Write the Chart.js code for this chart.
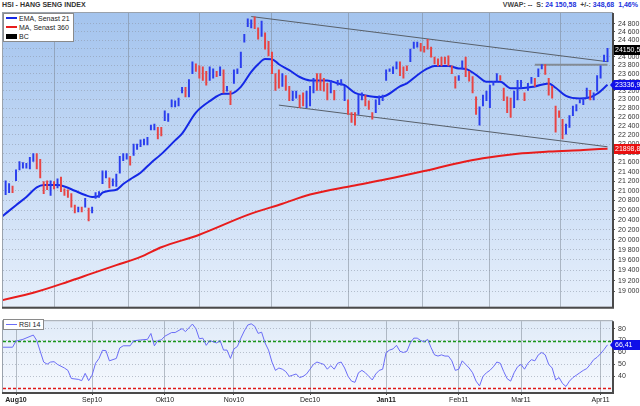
<!DOCTYPE html>
<html>
<head>
<meta charset="utf-8">
<script src="https://cdn.jsdelivr.net/npm/chart.js@4.4.1/dist/chart.umd.min.js"></script>
<style>
  body { margin: 0; background: #fff; width: 640px; height: 406px; overflow: hidden; position: relative; font-family: 'Liberation Sans', Arial, sans-serif; }
  #topBox { position: absolute; left: 0; top: 0; }
  #rsiBox { position: absolute; left: 0; top: 314px; }
  .title { position: absolute; left: 2px; top: 1px; font-size: 7px; font-weight: bold; color: #333; white-space: nowrap; }
  .info { position: absolute; right: 2px; top: 1px; font-size: 7px; font-weight: bold; color: #444; white-space: nowrap; }
  .info span { color: #2233dd; }
  .legend { position: absolute; background: #fff; border: 1px solid #8a8a8a; font-size: 7px; color: #222; line-height: 9px; padding: 0 3px 0 2px; }
  .legend i { display: inline-block; width: 11px; height: 2px; margin-right: 2px; vertical-align: 2px; }
  .legend i.box { height: 5px; vertical-align: 0; }
</style>
</head>
<body>
<div class="title">HSI - HANG SENG INDEX</div>
<div class="info" id="info"></div>
<div id="topBox"><canvas id="priceChart" width="640" height="314"></canvas></div>
<div id="rsiBox"><canvas id="rsiChart" width="640" height="92"></canvas></div>
<div class="legend" id="priceLegend" style="left:3px;top:13px;"></div>
<div class="legend" id="rsiLegend" style="left:3px;top:319px;"></div>
<script>
// x axis: trading day number, 0 = first trading day of Aug 2010
const monthDay = [0, 22, 43, 63, 85, 107, 128, 146, 169];
const monthLabel = ['Aug10', 'Sep10', 'Okt10', 'Nov10', 'Dec10', 'Jan11', 'Feb11', 'Mar11', 'Apr11'];
const boldMonths = ['Aug10', 'Jan11'];

const priceTicks = [19000, 19200, 19400, 19600, 19800, 20000, 20200, 20400, 20600, 20800,
  21000, 21200, 21400, 21600, 21800, 22000, 22200, 22400, 22600, 22800, 23000, 23200,
  23400, 23600, 23800, 24000, 24200, 24400, 24600, 24800];
const rsiTicks = [40, 50, 60, 70, 80];

// daily bars (high / low), starting at day -3
const firstDay = -3;
const barHigh = [21210, 21150, 21100, 21440, 21620, 21600, 21580, 21710, 21790, 21790,
  21670, 21190, 21210, 21210, 21190, 21250, 21290, 21040, 21020, 20940,
  20700, 20660, 20660, 20840, 20640, 20660, 20960, 20980, 21420, 21420,
  21270, 21250, 21350, 21730, 21790, 21790, 21730, 22000, 22000, 22090,
  22110, 22150, 22420, 22440, 22370, 22370, 22740, 22680, 22990, 22970,
  23030, 23280, 23280, 23460, 23880, 23830, 23780, 23760, 23650, 23760,
  23710, 23650, 23760, 23690, 23300, 23190, 23690, 23710, 24110, 24540,
  24920, 24900, 24970, 24700, 24870, 24580, 24370, 24110, 23600, 23690,
  23600, 23550, 23300, 23190, 23190, 23100, 23150, 23190, 23300, 23490,
  23600, 23600, 23490, 23370, 23440, 23210, 23440, 23460, 23300, 22990,
  22700, 22700, 23100, 23150, 23100, 22970, 22700, 22990, 23080, 23100,
  23690, 23710, 23760, 23880, 23880, 23760, 23780, 24180, 24350, 24350,
  24320, 24250, 24420, 24230, 23990, 23950, 23990, 23990, 24020, 23780,
  23530, 23550, 23900, 23990, 23650, 23530, 23060, 22830, 23100, 23190,
  23330, 23420, 23600, 23550, 23260, 23060, 23030, 23190, 23440, 23440,
  23150, 23370, 23510, 23490, 23710, 23810, 23810, 23490, 23300, 22850,
  22740, 22550, 22440, 22630, 22850, 22880, 22990, 23030, 23260, 23210,
  23150, 23550, 23780, 24040, 24200];
const barLow = [20920, 20960, 20960, 21210, 21440, 21480, 21480, 21460, 21620, 21460,
  21270, 20940, 21020, 20900, 21040, 21060, 20980, 20900, 20860, 20660,
  20540, 20560, 20560, 20660, 20380, 20540, 20840, 20860, 21150, 21270,
  21060, 21100, 21090, 21370, 21640, 21670, 21540, 21750, 21880, 21940,
  21980, 21980, 22310, 22310, 22110, 22180, 22520, 22500, 22830, 22830,
  22850, 23150, 23060, 23060, 23600, 23650, 23490, 23440, 23330, 23440,
  23490, 23530, 23550, 23150, 23190, 22880, 23370, 23600, 23740, 24350,
  24730, 24700, 24680, 24420, 24490, 24180, 24020, 23600, 23210, 23260,
  23300, 23210, 22970, 22970, 23030, 22810, 22850, 22810, 22850, 23150,
  23210, 23210, 23190, 22990, 23150, 22990, 23330, 23330, 22970, 22660,
  22480, 22420, 22660, 22990, 22850, 22770, 22550, 22700, 22880, 22970,
  23440, 23650, 23600, 23710, 23550, 23490, 23670, 23880, 24200, 24230,
  24130, 24110, 24180, 23990, 23830, 23780, 23780, 23830, 23780, 23600,
  23260, 23440, 23710, 23530, 23420, 23150, 22660, 22420, 22850, 22970,
  22810, 23330, 23420, 23440, 22970, 22700, 22590, 22810, 22990, 23260,
  22970, 23210, 23370, 23300, 23530, 23710, 23580, 23100, 23030, 22260,
  22590, 22110, 22220, 22370, 22630, 22740, 22920, 22880, 23030, 22990,
  22990, 23190, 23490, 23880, 23880];
const barUp = [1, 1, 0, 1, 1, 1, 1, 1, 1, 0,
  0, 0, 0, 1, 0, 1, 0, 0, 0, 0,
  0, 1, 0, 1, 0, 1, 1, 1, 1, 1,
  0, 1, 1, 1, 1, 1, 0, 1, 1, 1,
  1, 1, 1, 1, 0, 0, 1, 1, 1, 1,
  1, 1, 0, 1, 1, 0, 0, 0, 0, 1,
  1, 0, 1, 0, 1, 0, 1, 1, 1, 1,
  1, 1, 0, 0, 1, 0, 0, 0, 0, 0,
  1, 0, 0, 1, 1, 0, 0, 1, 1, 1,
  0, 0, 0, 0, 1, 0, 1, 1, 1, 0,
  0, 0, 1, 1, 0, 0, 0, 1, 1, 1,
  1, 1, 1, 1, 0, 0, 0, 1, 1, 1,
  0, 0, 0, 0, 0, 0, 0, 0, 0, 0,
  0, 1, 1, 0, 0, 0, 0, 1, 1, 1,
  1, 1, 1, 0, 0, 0, 0, 1, 1, 1,
  0, 1, 1, 0, 1, 1, 0, 0, 0, 0,
  0, 0, 1, 1, 1, 1, 1, 1, 1, 0,
  1, 1, 1, 1, 1];

// EMA 21
const emaDay = [-4, 0, 3, 6, 8, 12, 14, 17, 20, 22, 24, 25, 27, 29, 31, 33, 36, 39, 42, 46, 48, 52, 56,
  60, 62, 65, 68, 70, 72, 74, 76, 79, 82, 85, 90, 93, 95, 98, 101, 105, 107, 111, 113, 116, 119,
  121, 125, 128, 130, 133, 136, 140, 143, 146, 150, 154, 156, 159, 163, 166, 168, 171];
const emaValue = [20470, 20700, 20870, 21070, 21120, 21120, 21090, 21000, 20910, 20870, 20890, 20960,
  21000, 21020, 21140, 21240, 21380, 21590, 21780, 22080, 22230, 22700, 22960, 23130, 23130, 23290,
  23640, 23820, 23946, 23940, 23820, 23680, 23520, 23440, 23440, 23370, 23330, 23150, 23090, 23050,
  23090, 23300, 23370, 23560, 23720, 23780, 23780, 23720, 23710, 23570, 23410, 23410, 23260, 23260,
  23300, 23370, 23270, 23080, 23020, 23050, 23130, 23336.9];

// MA 360
const maDay = [-4, 5, 15, 22, 29, 36, 42, 53, 67, 77, 85, 97, 107, 118, 128, 135, 145, 154, 164, 171];
const maValue = [18830, 18970, 19180, 19340, 19500, 19660, 19850, 20100, 20500, 20730, 20920, 21100,
  21240, 21415, 21590, 21690, 21790, 21835, 21870, 21898.88];

// hand-drawn channel and resistance
const upperTrendDay = [68, 171];
const upperTrendValue = [24980, 23880];
const lowerTrendDay = [76, 171];
const lowerTrendValue = [22870, 21940];
const resistDay = [150, 171];
const resistValue = [23810, 23810];

// RSI 14
const rsiDay = [-4, -1, 0, 2, 5, 6, 8, 9, 10, 11, 12, 14, 15, 16, 18, 19, 20, 21, 22, 23, 24, 25, 26, 27,
  29, 30, 31, 33, 34, 36, 38, 39, 40, 41, 42, 43, 45, 46, 48, 49, 51, 52, 53, 54, 55, 56, 57, 58, 59,
  60, 61, 62, 63, 64, 65, 66, 67, 68, 69, 70, 71, 72, 73, 74, 75, 76, 77, 78, 79, 80, 81, 82, 83, 84,
  85, 86, 87, 88, 89, 90, 91, 92, 93, 94, 95, 96, 97, 98, 99, 100, 101, 102, 103, 104, 105, 106, 107,
  108, 109, 110, 111, 112, 113, 114, 115, 116, 117, 118, 119, 120, 121, 122, 123, 124, 125, 126, 127,
  128, 129, 130, 131, 132, 133, 134, 135, 136, 137, 138, 139, 140, 141, 142, 143, 144, 145, 146, 147,
  148, 149, 150, 151, 152, 153, 154, 155, 156, 157, 158, 159, 160, 161, 162, 163, 164, 165, 166, 167,
  168, 169, 170, 171];
const rsiValue = [64.4, 64.4, 69.5, 71, 74.6, 70, 52, 50.2, 52, 52.3, 50, 47, 45, 38.2, 37.5, 36.4, 42.5,
  36.4, 41, 51, 55, 61.8, 61.5, 53, 55, 63.8, 65.6, 65.6, 69.8, 70.5, 71, 75.9, 65.6, 70, 70.5, 73.6,
  76.7, 76.7, 80, 77.5, 83.8, 80, 71.5, 72, 66, 70, 69, 68, 70, 62, 62, 55, 63, 65, 72, 78, 83, 84, 82,
  76, 77, 68, 62, 52, 45, 47, 46, 44, 40, 41, 42, 39, 40, 42, 46, 50, 52, 51, 50, 46, 49, 46, 51, 52,
  47, 40, 36, 35, 43, 45, 43, 40, 37, 42, 45, 46, 60, 62, 63, 66, 61, 60, 61, 68, 72, 72, 70, 69, 71,
  64, 58, 57, 58, 57, 57, 53, 45, 46, 53, 50, 47, 43, 36, 32, 40, 43, 45, 48, 52, 51, 44, 38, 36, 43,
  48, 50, 46, 51, 54, 53, 58, 60, 58, 50, 47, 37, 39, 34, 31.5, 36, 39, 41, 43, 45, 46.5, 50, 54, 56,
  59, 62.5, 66.41];
const rsiUpper = 70;
const rsiLower = 30;

const lastClose = 24150.58;
const change = 348.68;
const changePct = 1.46;

const emaColor = '#1428e6';
const maColor = '#e81c1c';
const upColor = '#2a3eee';
const downColor = '#e84444';
const rsiColor = '#6a6cf6';

Chart.defaults.font.family = "'Liberation Sans', Arial, sans-serif";
Chart.defaults.font.size = 7;
Chart.defaults.color = '#333';
Chart.defaults.animation = false;

function spaced(v) { return String(v).replace(/\B(?=(\d{3})+(?!\d))/g, ' '); }
function comma(v) { return String(v).replace('.', ','); }
function pairs(days, values) { return days.map((d, k) => ({ x: d, y: values[k] })); }

document.getElementById('info').innerHTML =
  'VWAP: -- &nbsp;S: <span>' + spaced(lastClose.toFixed(2).split('.')[0]) + ',' + lastClose.toFixed(2).split('.')[1] +
  '</span> &nbsp;+/-: <span>' + comma(change.toFixed(2)) + ' &nbsp;' + comma(changePct.toFixed(2)) + '%</span>';
document.getElementById('priceLegend').innerHTML =
  '<div><i style="background:' + emaColor + '"></i>EMA, Senast 21</div>' +
  '<div><i style="background:' + maColor + '"></i>MA, Senast 360</div>' +
  '<div><i class="box" style="background:#000"></i>BC</div>';
document.getElementById('rsiLegend').innerHTML = '<div><i style="background:' + rsiColor + ';height:1px"></i>RSI 14</div>';

// gradient behind the plot area and frame around it
const panelBg = {
  id: 'panelBg',
  beforeDraw(chart, args, opts) {
    const { ctx, chartArea: a } = chart;
    const g = ctx.createLinearGradient(0, a.top, 0, a.bottom);
    g.addColorStop(0, opts.top);
    g.addColorStop(1, opts.bottom);
    ctx.save();
    ctx.fillStyle = g;
    ctx.fillRect(a.left, a.top, a.right - a.left, a.bottom - a.top);
    ctx.restore();
  },
  afterDraw(chart, args, opts) {
    const { ctx, chartArea: a } = chart;
    ctx.save();
    ctx.strokeStyle = '#9aa2ac';
    ctx.lineWidth = 1;
    ctx.strokeRect(a.left - 0.5, a.top - 0.5, a.right - a.left + 1, a.bottom - a.top + 1);
    ctx.strokeStyle = '#4a4a4a';
    ctx.lineWidth = 2;
    ctx.beginPath();
    ctx.moveTo(a.right + 1, a.top);
    ctx.lineTo(a.right + 1, a.bottom + 1);
    ctx.moveTo(a.left - 1, a.bottom + 1);
    ctx.lineTo(a.right + 2, a.bottom + 1);
    ctx.stroke();
    ctx.restore();
  }
};

// dashed RSI levels
const levelLines = {
  id: 'levelLines',
  beforeDatasetsDraw(chart, args, opts) {
    if (!opts.levels) return;
    const { ctx, chartArea: a, scales } = chart;
    ctx.save();
    ctx.lineWidth = 1.3;
    ctx.setLineDash([3, 2]);
    opts.levels.forEach(l => {
      const y = Math.round(scales.y.getPixelForValue(l.value)) + 0.5;
      ctx.strokeStyle = l.color;
      ctx.beginPath();
      ctx.moveTo(a.left, y);
      ctx.lineTo(a.right, y);
      ctx.stroke();
    });
    ctx.restore();
  }
};

// value tags on the right axis
const valueTags = {
  id: 'valueTags',
  afterDraw(chart, args, opts) {
    if (!opts.tags) return;
    const { ctx, chartArea: a, scales } = chart;
    ctx.save();
    ctx.font = '7px ' + Chart.defaults.font.family;
    ctx.textBaseline = 'middle';
    opts.tags.forEach(t => {
      const y = Math.round(scales.y.getPixelForValue(t.value));
      const x0 = a.right + 2;
      ctx.fillStyle = t.bg;
      ctx.beginPath();
      ctx.moveTo(x0 - (t.arrow ? 4 : 0), y);
      ctx.lineTo(x0, y - 5);
      ctx.lineTo(chart.width, y - 5);
      ctx.lineTo(chart.width, y + 5);
      ctx.lineTo(x0, y + 5);
      ctx.closePath();
      ctx.fill();
      ctx.fillStyle = t.fg;
      ctx.fillText(t.text, x0 + 1, y + 0.5);
    });
    ctx.restore();
  }
};

const xTicks = scale => { scale.ticks = monthDay.map(v => ({ value: v })); };

const priceChart = new Chart(document.getElementById('priceChart'), {
  type: 'bar',
  data: {
    datasets: [
      {
        type: 'bar',
        data: barHigh.map((h, k) => ({ x: firstDay + k, y: [barLow[k], h] })),
        backgroundColor: barUp.map(u => u ? upColor : downColor),
        barThickness: 1.3,
        grouped: false
      },
      {
        type: 'line', data: pairs(maDay, maValue), borderColor: maColor, borderWidth: 2,
        pointRadius: 0, cubicInterpolationMode: 'monotone'
      },
      {
        type: 'line', data: pairs(emaDay, emaValue), borderColor: emaColor, borderWidth: 2,
        pointRadius: 0, cubicInterpolationMode: 'monotone'
      },
      { type: 'line', data: pairs(upperTrendDay, upperTrendValue), borderColor: '#58606a', borderWidth: 1, pointRadius: 0 },
      { type: 'line', data: pairs(lowerTrendDay, lowerTrendValue), borderColor: '#58606a', borderWidth: 1, pointRadius: 0 },
      { type: 'line', data: pairs(resistDay, resistValue), borderColor: '#838b95', borderWidth: 2, pointRadius: 0 }
    ]
  },
  options: {
    responsive: false,
    layout: { padding: { left: 3, top: 13, right: 0, bottom: 1 } },
    plugins: {
      legend: { display: false },
      tooltip: { enabled: false },
      panelBg: { top: '#a4c4ee', bottom: '#e6effb' },
      valueTags: {
        tags: [
          { value: lastClose, text: comma(lastClose), bg: '#000', fg: '#fff' },
          { value: emaValue[emaValue.length - 1], text: comma(emaValue[emaValue.length - 1]), bg: '#1010e8', fg: '#fff', arrow: true },
          { value: maValue[maValue.length - 1], text: comma(maValue[maValue.length - 1]), bg: '#e81010', fg: '#fff' }
        ]
      }
    },
    scales: {
      x: {
        type: 'linear', min: -3.76, max: 172.3, offset: false,
        afterBuildTicks: xTicks,
        afterFit: s => { s.height = 0; },
        ticks: { display: false },
        grid: { color: 'rgba(120,130,142,0.5)', drawTicks: false },
        border: { display: false }
      },
      y: {
        type: 'logarithmic', position: 'right', min: 18707, max: 25068,
        afterBuildTicks: s => { s.ticks = priceTicks.map(v => ({ value: v })); },
        afterFit: s => { s.width = 28; },
        ticks: { autoSkip: false, padding: 3, callback: v => spaced(v), color: '#333' },
        grid: { color: 'rgba(140,150,165,0.55)', tickLength: 3, tickColor: '#555', tickBorderDash: [] },
        border: { display: false, dash: [1, 2] }
      }
    }
  },
  plugins: [panelBg, valueTags]
});

const rsiChart = new Chart(document.getElementById('rsiChart'), {
  type: 'line',
  data: {
    datasets: [{
      data: pairs(rsiDay, rsiValue), borderColor: rsiColor, borderWidth: 1, pointRadius: 0
    }]
  },
  options: {
    responsive: false,
    layout: { padding: { left: 3, top: 1, right: 0, bottom: 0 } },
    plugins: {
      legend: { display: false },
      tooltip: { enabled: false },
      panelBg: { top: '#e0ebf8', bottom: '#f6f9fe' },
      levelLines: { levels: [{ value: rsiUpper, color: '#1a961a' }, { value: rsiLower, color: '#e01818' }] },
      valueTags: {
        tags: [{ value: rsiValue[rsiValue.length - 1], text: comma(rsiValue[rsiValue.length - 1]), bg: '#1010e8', fg: '#fff', arrow: true }]
      }
    },
    scales: {
      x: {
        type: 'linear', min: -3.76, max: 172.3, offset: false,
        afterBuildTicks: xTicks,
        afterFit: s => { s.height = 14; },
        ticks: {
          autoSkip: false, maxRotation: 0, padding: 1, color: '#222',
          callback: (v, i) => monthLabel[i],
          font: c => ({ size: 7, weight: (c.tick && boldMonths.includes(monthLabel[monthDay.indexOf(c.tick.value)])) ? 'bold' : 'normal' })
        },
        grid: { color: 'rgba(120,130,142,0.5)', tickLength: 3, tickColor: '#444' },
        border: { display: false }
      },
      y: {
        position: 'right', min: 26.9, max: 86.2,
        afterBuildTicks: s => { s.ticks = rsiTicks.map(v => ({ value: v })); },
        afterFit: s => { s.width = 28; },
        ticks: { autoSkip: false, padding: 3, color: '#333' },
        grid: { color: 'rgba(140,150,165,0.55)', tickLength: 3, tickColor: '#555', tickBorderDash: [] },
        border: { display: false, dash: [1, 2] }
      }
    }
  },
  plugins: [panelBg, levelLines, valueTags]
});
</script>
</body>
</html>
